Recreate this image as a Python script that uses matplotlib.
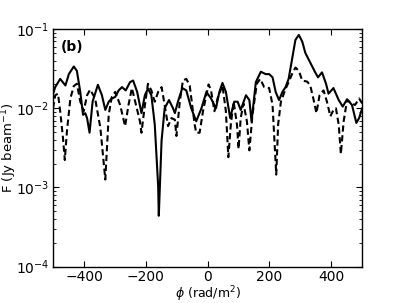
import matplotlib
matplotlib.use("Agg")
import matplotlib.pyplot as plt

# Faraday depth (rad/m^2) and flux (Jy/beam), solid curve
phi_solid = [-500, -493, -477, -460, -449, -433, -423, -412, -403, -396, -390, -382, -372, -355,
             -342, -331, -320, -310, -299, -288, -277, -265, -251, -241, -228, -214, -203, -193,
             -182, -171, -160, -158, -149, -139, -125, -112, -106, -96, -82, -69, -53, -37, -20,
             -4, 11, 27, 38, 48, 59, 73, 86, 97, 107, 124, 135, 142, 156, 172, 188, 199, 210, 220,
             231, 242, 252, 262, 273, 284, 295, 306, 316, 332, 348, 357, 370, 383, 391, 407, 424,
             437, 451, 467, 481, 490, 500]
F_solid = [0.0153, 0.0185, 0.0235, 0.0194, 0.0270, 0.0337, 0.0297, 0.0161, 0.00827, 0.00868,
           0.00752, 0.00491, 0.0122, 0.0198, 0.0146, 0.00953, 0.0121, 0.0133, 0.0139, 0.0168,
           0.0185, 0.0168, 0.0214, 0.0224, 0.0161, 0.00868, 0.0146, 0.0177, 0.0146, 0.00622,
           0.00103, 0.000439, 0.00391, 0.0100, 0.0127, 0.0100, 0.00868, 0.0121, 0.0180, 0.0168,
           0.0100, 0.00685, 0.0100, 0.0161, 0.0133, 0.0100, 0.0161, 0.0209, 0.0161, 0.00752,
           0.0121, 0.0121, 0.00953, 0.0146, 0.0127, 0.00685, 0.0214, 0.0289, 0.0270, 0.0270,
           0.0246, 0.0161, 0.0127, 0.0161, 0.0185, 0.0235, 0.0414, 0.0731, 0.0843, 0.0697,
           0.0501, 0.0377, 0.0284, 0.0246, 0.0284, 0.0204, 0.0153, 0.0180, 0.0127, 0.0105,
           0.0130, 0.0110, 0.00653, 0.00752, 0.0100]

# dashed curve
phi_dash = [-500, -493, -484, -477, -468, -462, -455, -444, -433, -423, -412, -401, -390, -380,
            -364, -347, -331, -320, -310, -299, -283, -267, -256, -245, -219, -214, -203, -193,
            -182, -171, -160, -149, -139, -128, -117, -106, -101, -90, -80, -69, -58, -42, -37,
            -26, -15, 3, 11, 22, 32, 48, 59, 67, 75, 84, 95, 100, 107, 116, 127, 135, 145, 159,
            170, 183, 199, 210, 222, 228, 237, 252, 262, 273, 284, 295, 306, 322, 332, 343, 352,
            362, 375, 386, 397, 407, 415, 424, 431, 440, 451, 467, 477, 490, 500]
F_dash = [0.0100, 0.0146, 0.0153, 0.00918, 0.00426, 0.00222, 0.00520, 0.0133, 0.0191, 0.0204,
          0.0122, 0.00918, 0.0146, 0.0172, 0.0133, 0.00566, 0.00126, 0.00827, 0.0139, 0.0161,
          0.0110, 0.00594, 0.0110, 0.0180, 0.00685, 0.00491, 0.0110, 0.0204, 0.0168, 0.0121,
          0.0161, 0.0185, 0.0110, 0.00594, 0.00752, 0.00717, 0.00447, 0.0121, 0.0224, 0.0235,
          0.0194, 0.00622, 0.00491, 0.00491, 0.00918, 0.0200, 0.0168, 0.00918, 0.0133, 0.0194,
          0.00918, 0.00241, 0.00622, 0.0121, 0.00622, 0.00306, 0.00752, 0.0115, 0.00685,
          0.00294, 0.00827, 0.0204, 0.0235, 0.0185, 0.0180, 0.0110, 0.00145, 0.00622, 0.0121,
          0.0175, 0.0214, 0.0270, 0.0327, 0.0297, 0.0224, 0.0217, 0.0194, 0.0127, 0.00868,
          0.0146, 0.0168, 0.0121, 0.00790, 0.00953, 0.0100, 0.00622, 0.00265, 0.00685, 0.0127,
          0.0115, 0.0110, 0.0133, 0.0115]

xticks = [-400, -200, 0, 200, 400]

fig = plt.figure(figsize=(4.02, 3.03), dpi=100, facecolor="white")
ax = fig.add_axes([0.132, 0.12, 0.769, 0.784])
ax.plot(phi_solid, F_solid, color="black", lw=1.5, ls="-", solid_joinstyle="round")
ax.plot(phi_dash, F_dash, color="black", lw=1.5, ls=(0, (3, 1.7)))
ax.set_yscale("log")
ax.set_xlim(-500, 500)
ax.set_ylim(1e-4, 1e-1)
ax.set_xticks(xticks)
ax.tick_params(which="both", direction="in", top=True, right=True, labelsize=10)
ax.tick_params(which="major", length=4, pad=2.5)
ax.tick_params(which="minor", length=2)
for s in ax.spines.values():
    s.set_linewidth(1.0)
ax.set_xlabel(r"$\phi$ (rad/m$^2$)", fontsize=9)
ax.set_ylabel(r"F (Jy beam$^{-1}$)", fontsize=9.5)
ax.xaxis.set_label_coords(0.5, -0.0732)
ax.yaxis.set_label_coords(-0.110, 0.5)
ax.text(0.025, 0.955, "(b)", transform=ax.transAxes, fontsize=10, fontweight="bold",
        va="top", ha="left")
fig.savefig("out.png", dpi=100, facecolor="white")
